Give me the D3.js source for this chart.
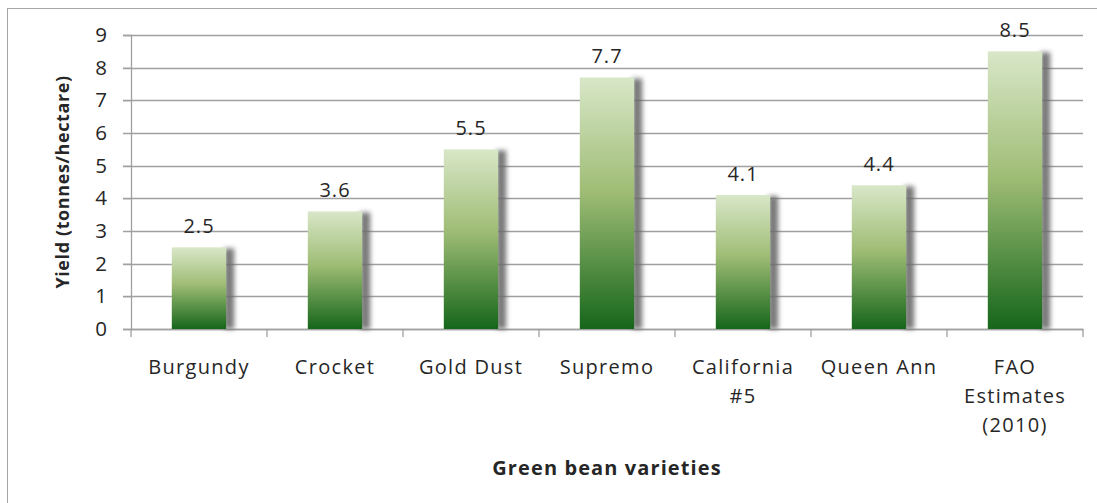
<!DOCTYPE html>
<html>
<head>
<meta charset="utf-8">
<script src="https://cdn.jsdelivr.net/npm/d3@7"></script>
<style>
  body { margin: 0; background: #fff; }
  text { font-family: "Open Sans", Lato, sans-serif; fill: #262626; }
</style>
</head>
<body>
<div id="chart"></div>
<script>
// data
const categories = ["Burgundy", "Crocket", "Gold Dust", "Supremo", "California\n#5", "Queen Ann", "FAO\nEstimates\n(2010)"];
const yields = [2.5, 3.6, 5.5, 7.7, 4.1, 4.4, 8.5];
const yTicks = [0, 1, 2, 3, 4, 5, 6, 7, 8, 9];

const width = 1097, height = 503;
const margin = {left: 131, right: 14, top: 35, bottom: 174};

const svg = d3.select('#chart').append('svg')
    .attr('width', width)
    .attr('height', height);

const defs = svg.append('defs');
const grad = defs.append('linearGradient')
    .attr('id', 'barGrad')
    .attr('x1', 0).attr('y1', 0).attr('x2', 0).attr('y2', 1);
grad.append('stop').attr('offset', '0%').attr('stop-color', '#d8e7c8');
grad.append('stop').attr('offset', '45%').attr('stop-color', '#a0bd76');
grad.append('stop').attr('offset', '100%').attr('stop-color', '#15661a');

const shadow = defs.append('filter').attr('id', 'blur')
    .attr('x', '-50%').attr('y', '-10%').attr('width', '200%').attr('height', '120%');
shadow.append('feGaussianBlur').attr('stdDeviation', 2.5);

// chart frame
svg.append('rect')
    .attr('x', 7.5).attr('y', 8.5)
    .attr('width', width + 20).attr('height', height + 20)
    .attr('fill', 'none')
    .attr('stroke', '#a6a6a6')
    .attr('stroke-width', 1);

const x = d3.scaleBand()
    .domain(categories)
    .range([margin.left, width - margin.right])
    .paddingInner(0.6)
    .paddingOuter(0.3);

const y = d3.scaleLinear()
    .domain([0, 9])
    .range([height - margin.bottom, margin.top]);

// gridlines
svg.append('g')
    .selectAll('line')
    .data(yTicks)
    .enter().append('line')
    .attr('x1', margin.left - 8)
    .attr('x2', width - margin.right)
    .attr('y1', d => Math.round(y(d)) + 0.5)
    .attr('y2', d => Math.round(y(d)) + 0.5)
    .attr('stroke', '#a0a0a0')
    .attr('stroke-width', 1.3);

// y axis
const yAxis = svg.append('g')
    .attr('transform', `translate(${margin.left},0)`)
    .call(d3.axisLeft(y).tickValues(yTicks).tickSize(8).tickPadding(16));
yAxis.select('.domain').attr('stroke', '#a0a0a0').attr('stroke-width', 1.3);
yAxis.selectAll('.tick line').attr('stroke', '#a0a0a0');
yAxis.selectAll('.tick text')
    .style('font-family', '"Open Sans", sans-serif')
    .style('font-size', '20.5px')
    .attr('fill', '#262626');

// x axis
const xAxis = svg.append('g')
    .attr('transform', `translate(0,${height - margin.bottom})`)
    .call(d3.axisBottom(x).tickSize(0).tickFormat(''));
xAxis.select('.domain').attr('stroke', '#a0a0a0').attr('stroke-width', 1.3);
const boundaries = categories.map(c => x(c) - (x.step() - x.bandwidth()) / 2).concat([width - margin.right]);
xAxis.selectAll('.bound')
    .data(boundaries)
    .enter().append('line')
    .attr('class', 'bound')
    .attr('x1', d => d).attr('x2', d => d)
    .attr('y1', 0).attr('y2', 8)
    .attr('stroke', '#a0a0a0')
    .attr('stroke-width', 1.3);

// category labels (multi-line)
const catLabels = svg.append('g')
    .selectAll('text')
    .data(categories)
    .enter().append('text')
    .attr('text-anchor', 'middle')
    .style('font-size', '20px')
    .style('letter-spacing', '1.3px')
    .attr('transform', d => `translate(${x(d) + x.bandwidth() / 2},${height - margin.bottom + 45})`);
catLabels.each(function(d) {
    const t = d3.select(this);
    d.split('\n').forEach((line, i) => {
        t.append('tspan').attr('x', 0).attr('y', i * 29).text(line);
    });
});

// bar shadows
svg.append('g')
    .selectAll('rect')
    .data(yields)
    .enter().append('rect')
    .attr('x', (d, i) => x(categories[i]) + x.bandwidth() - 2)
    .attr('y', d => y(d) + 1)
    .attr('width', 10)
    .attr('height', d => y(0) - y(d) - 1)
    .attr('fill', '#6a6a6a')
    .attr('opacity', 0.9)
    .attr('filter', 'url(#blur)');

// bars
svg.append('g')
    .selectAll('rect')
    .data(yields)
    .enter().append('rect')
    .attr('x', (d, i) => x(categories[i]))
    .attr('y', d => y(d))
    .attr('width', x.bandwidth())
    .attr('height', d => y(0) - y(d))
    .attr('fill', 'url(#barGrad)');

// value labels
svg.append('g')
    .selectAll('text')
    .data(yields)
    .enter().append('text')
    .attr('text-anchor', 'middle')
    .attr('x', (d, i) => x(categories[i]) + x.bandwidth() / 2)
    .attr('y', d => y(d) - 14)
    .style('font-size', '20px')
    .style('letter-spacing', '1px')
    .text(d => d.toFixed(1));

// axis titles
svg.append('text')
    .attr('transform', `translate(69,${(y(0) + y(9)) / 2}) rotate(-90)`)
    .attr('text-anchor', 'middle')
    .style('font-size', '18px')
    .style('font-weight', 'bold')
    .style('letter-spacing', '0.6px')
    .attr('fill', '#000')
    .text('Yield (tonnes/hectare)');

svg.append('text')
    .attr('x', 607)
    .attr('y', 475)
    .attr('text-anchor', 'middle')
    .style('font-size', '20px')
    .style('font-weight', 'bold')
    .style('letter-spacing', '1.1px')
    .attr('fill', '#000')
    .text('Green bean varieties');
</script>
</body>
</html>
